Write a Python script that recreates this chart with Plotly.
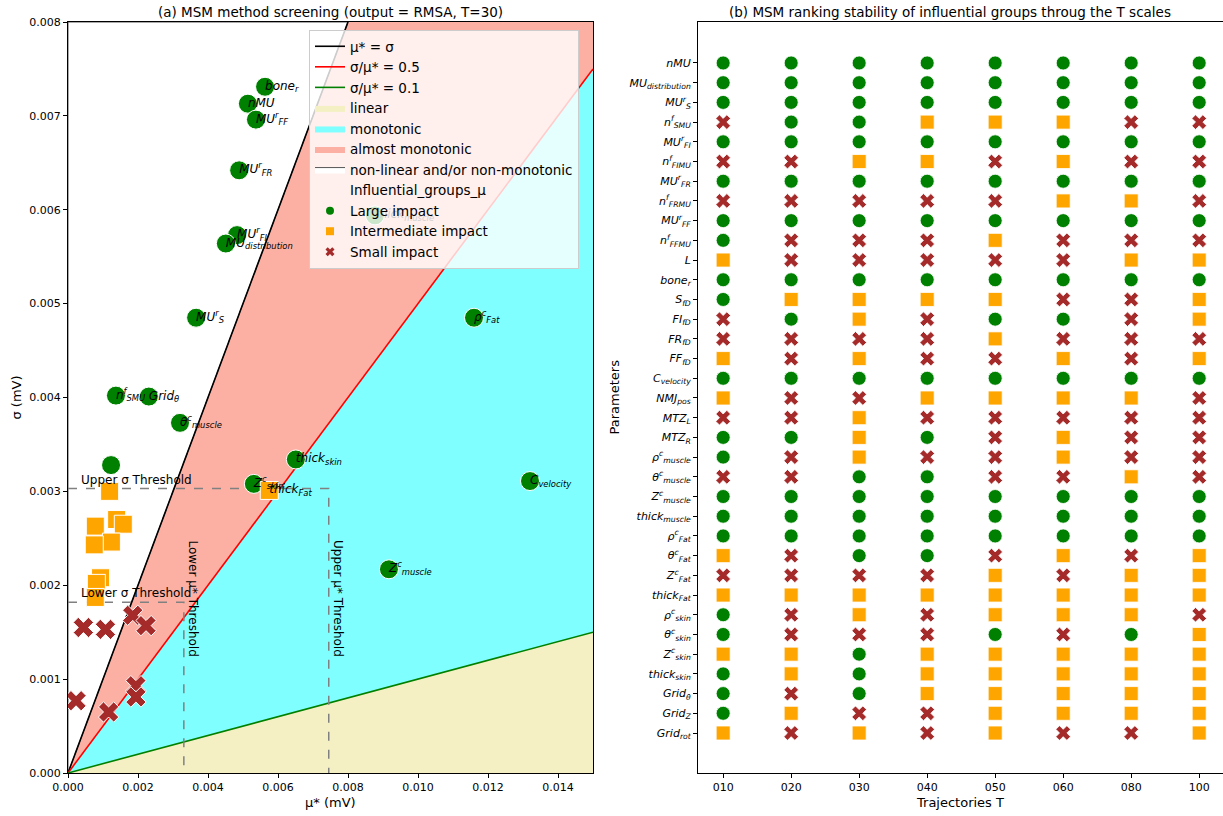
import plotly.graph_objects as go

W, H = 1223, 816

# ---------------- (a) MSM screening, T = 30 ----------------
mu_max, sigma_max = 0.015, 0.008
ratio_labels = ["μ* = σ", "σ/μ* = 0.5", "σ/μ* = 0.1"]
ratio_values = [1.0, 0.5, 0.1]
ratio_colors = ["black", "red", "green"]

region_names = ["linear", "monotonic", "almost monotonic", "non-linear and/or non-monotonic"]
region_colors = ["rgb(244,240,196)", "rgb(127,255,255)", "rgb(252,176,164)", "white"]

# Large impact group
large_mu = [0.00563, 0.00514, 0.00537, 0.00489, 0.00483, 0.00451, 0.00366, 0.00137,
            0.00231, 0.00320, 0.00123, 0.00651, 0.00531, 0.01160, 0.01320, 0.00917, 0.00877]
large_sigma = [0.00731, 0.00713, 0.00696, 0.00642, 0.00573, 0.00564, 0.00485, 0.00402,
               0.00401, 0.00373, 0.00328, 0.00334, 0.00308, 0.00485, 0.00311, 0.00217, 0.00594]
large_labels = ["<i>bone<sub>r</sub></i>", "<i>nMU</i>", "<i>MU<sup>r</sup><sub>FF</sub></i>",
                "<i>MU<sup>r</sup><sub>FR</sub></i>", "<i>MU<sup>r</sup><sub>FI</sub></i>",
                "<i>MU<sub>distribution</sub></i>", "<i>MU<sup>r</sup><sub>S</sub></i>",
                "<i>n<sup>f</sup><sub>SMU</sub></i>", "<i>Grid<sub>θ</sub></i>",
                "<i>θ<sup>c</sup><sub>muscle</sub></i>", "",
                "<i>thick<sub>skin</sub></i>", "<i>Z<sup>c</sup><sub>skin</sub></i>",
                "<i>ρ<sup>c</sup><sub>Fat</sub></i>", "<i>C<sub>velocity</sub></i>",
                "<i>Z<sup>c</sup><sub>muscle</sub></i>", "<i>thick<sub>muscle</sub></i>"]

# Intermediate impact group
inter_mu = [0.00119, 0.00139, 0.00158, 0.00078, 0.00124, 0.00075, 0.00093, 0.00081, 0.00078, 0.00575]
inter_sigma = [0.00300, 0.00270, 0.00265, 0.00263, 0.00246, 0.00243, 0.00208, 0.00202, 0.00187, 0.00301]
inter_labels = ["", "", "", "", "", "", "", "", "", "<i>thick<sub>Fat</sub></i>"]

# Small impact group
small_mu = [0.00044, 0.00107, 0.00185, 0.00223, 0.00023, 0.00194, 0.00194, 0.00116]
small_sigma = [0.00155, 0.00153, 0.00168, 0.00157, 0.00077, 0.00093, 0.00081, 0.00065]

upper_sigma, lower_sigma = 0.00303, 0.00182
upper_mu, lower_mu = 0.00745, 0.00331

# ---------------- (b) ranking stability ----------------
t_scales = ["010", "020", "030", "040", "050", "060", "080", "100"]
parameters = [
    "<i>nMU</i>", "<i>MU<sub>distribution</sub></i>", "<i>MU<sup>r</sup><sub>S</sub></i>",
    "<i>n<sup>f</sup><sub>SMU</sub></i>", "<i>MU<sup>r</sup><sub>FI</sub></i>",
    "<i>n<sup>f</sup><sub>FIMU</sub></i>", "<i>MU<sup>r</sup><sub>FR</sub></i>",
    "<i>n<sup>f</sup><sub>FRMU</sub></i>", "<i>MU<sup>r</sup><sub>FF</sub></i>",
    "<i>n<sup>f</sup><sub>FFMU</sub></i>", "<i>L</i>", "<i>bone<sub>r</sub></i>",
    "<i>S<sub>fD</sub></i>", "<i>FI<sub>fD</sub></i>", "<i>FR<sub>fD</sub></i>",
    "<i>FF<sub>fD</sub></i>", "<i>C<sub>velocity</sub></i>", "<i>NMJ<sub>pos</sub></i>",
    "<i>MTZ<sub>L</sub></i>", "<i>MTZ<sub>R</sub></i>",
    "<i>ρ<sup>c</sup><sub>muscle</sub></i>", "<i>θ<sup>c</sup><sub>muscle</sub></i>",
    "<i>Z<sup>c</sup><sub>muscle</sub></i>", "<i>thick<sub>muscle</sub></i>",
    "<i>ρ<sup>c</sup><sub>Fat</sub></i>", "<i>θ<sup>c</sup><sub>Fat</sub></i>",
    "<i>Z<sup>c</sup><sub>Fat</sub></i>", "<i>thick<sub>Fat</sub></i>",
    "<i>ρ<sup>c</sup><sub>skin</sub></i>", "<i>θ<sup>c</sup><sub>skin</sub></i>",
    "<i>Z<sup>c</sup><sub>skin</sub></i>", "<i>thick<sub>skin</sub></i>",
    "<i>Grid<sub>θ</sub></i>", "<i>Grid<sub>Z</sub></i>", "<i>Grid<sub>rot</sub></i>",
]
# L = large, I = intermediate, S = small impact, one letter per parameter
ranking_T010 = "LLLSLSLSLL" "ILLSSILISL" "LSLLLISILL" "ILLLI"
ranking_T020 = "LLLLLSLSLS" "SLILSSLSSL" "SSLLLSSISS" "IISIS"
ranking_T030 = "LLLLLILSLS" "SLIISILSII" "ILLLLLSIIS" "LLLSI"
ranking_T040 = "LLLILILSLS" "SLISSSLISL" "SLLLLLSISS" "IIISS"
ranking_T050 = "LLLILSLSLI" "SLILISLISS" "SSLLLSIIIL" "IIIII"
ranking_T060 = "LLLILILILS" "SLSLSILISI" "ISLLLISIIS" "IIIIS"
ranking_T080 = "LLLSLSLILS" "ILSSSSLISS" "SILLLSIIIL" "IIIIS"
ranking_T100 = "LLLSLSLSLS" "ILIISILSSS" "SSLLLIIISI" "IIIII"
rankings = [ranking_T010, ranking_T020, ranking_T030, ranking_T040,
            ranking_T050, ranking_T060, ranking_T080, ranking_T100]

group_names = ["Large impact", "Intermediate impact", "Small impact"]
group_codes = ["L", "I", "S"]
group_colors = ["green", "orange", "#a52a2a"]
group_symbols = ["circle", "square", "x"]

FONT = "DejaVu Sans"
fig = go.Figure()


def line_end(slope):
    """Point where a ray sigma = slope * mu leaves the plotting box."""
    if slope is None:          # vertical ray (mu = 0)
        return 0.0, sigma_max
    mu_end = min(mu_max, sigma_max / slope) if slope > 0 else mu_max
    return mu_end, slope * mu_end


def region_polygon(lo, hi):
    x0, y0 = line_end(lo)
    x1, y1 = line_end(hi)
    xs, ys = [0.0, x0], [0.0, y0]
    if x0 == mu_max and y1 == sigma_max and y0 < sigma_max:
        xs.append(mu_max); ys.append(sigma_max)
    xs += [x1, 0.0]; ys += [y1, 0.0]
    return xs, ys


# regions between the ratio lines (bottom to top)
bounds = [(0.0, ratio_values[2]), (ratio_values[2], ratio_values[1]),
          (ratio_values[1], ratio_values[0]), (ratio_values[0], None)]
for k, (lo, hi) in enumerate(bounds):
    xs, ys = region_polygon(lo, hi)
    outline = k == 3
    fig.add_trace(go.Scatter(x=xs, y=ys, fill="toself", fillcolor=region_colors[k],
                             mode="lines",
                             line=dict(width=1 if outline else 0,
                                       color="#555555" if outline else region_colors[k]),
                             name=region_names[k], legendrank=10 + k, hoverinfo="skip",
                             xaxis="x", yaxis="y"))

# ratio lines
for k, r in enumerate(ratio_values):
    xe, ye = line_end(r)
    fig.add_trace(go.Scatter(x=[0, xe], y=[0, ye], mode="lines",
                             line=dict(color=ratio_colors[k], width=1.6),
                             name=ratio_labels[k], legendrank=k + 1, xaxis="x", yaxis="y"))

# threshold guides
for s_th, m_th in ((upper_sigma, upper_mu), (lower_sigma, lower_mu)):
    fig.add_trace(go.Scatter(x=[0, m_th, m_th], y=[s_th, s_th, 0], mode="lines",
                             line=dict(color="gray", width=1.5, dash="dash"),
                             showlegend=False, hoverinfo="skip", xaxis="x", yaxis="y"))

# screening points
group_mu = [large_mu, inter_mu, small_mu]
group_sigma = [large_sigma, inter_sigma, small_sigma]
left_sizes = [19, 18, 18]
for g in range(3):
    fig.add_trace(go.Scatter(x=group_mu[g], y=group_sigma[g], mode="markers",
                             marker=dict(symbol=group_symbols[g], color=group_colors[g],
                                         size=left_sizes[g], line=dict(color="white", width=1)),
                             showlegend=False, xaxis="x", yaxis="y"))

label_mu = large_mu + inter_mu
label_sigma = large_sigma + inter_sigma
label_text = large_labels + inter_labels
fig.add_trace(go.Scatter(x=label_mu, y=label_sigma, mode="text", text=label_text,
                         textposition="middle right", marker=dict(size=0),
                         textfont=dict(family=FONT, size=12, color="black"),
                         showlegend=False, hoverinfo="skip", xaxis="x", yaxis="y"))

# legend entries for groups
fig.add_trace(go.Scatter(x=[None], y=[None], mode="markers",
                         marker=dict(size=1, color="rgba(0,0,0,0)"),
                         name="Influential_groups_μ", legendrank=20, xaxis="x", yaxis="y"))
for g in range(3):
    fig.add_trace(go.Scatter(x=[None], y=[None], mode="markers",
                             marker=dict(symbol=group_symbols[g], color=group_colors[g], size=8),
                             name=group_names[g], legendrank=21 + g, xaxis="x", yaxis="y"))

# ---------------- (b) grid of groups ----------------
right_sizes = [14, 14, 13]
for g in range(3):
    xs, ys = [], []
    for t, ranking in zip(t_scales, rankings):
        for p, code in zip(parameters, ranking):
            if code == group_codes[g]:
                xs.append(t)
                ys.append(p)
    fig.add_trace(go.Scatter(x=xs, y=ys, mode="markers",
                             marker=dict(symbol=group_symbols[g], color=group_colors[g],
                                         size=right_sizes[g], line=dict(color="white", width=0.8)),
                             showlegend=False, xaxis="x2", yaxis="y2"))

# ---------------- layout ----------------
def px_x(p):
    return p / W


def px_y(p):
    return 1 - p / H


axis_common = dict(showline=True, linecolor="black", linewidth=1, mirror=True,
                   ticks="outside", ticklen=4, tickcolor="black", showgrid=False,
                   zeroline=False, automargin=False,
                   tickfont=dict(family=FONT, size=11, color="black"))

fig.update_layout(
    width=W, height=H, margin=dict(l=0, r=0, t=0, b=0, pad=0, autoexpand=False),
    paper_bgcolor="white", plot_bgcolor="white",
    font=dict(family=FONT, color="black"),
    xaxis=dict(domain=[px_x(68), px_x(593)], range=[0, mu_max], dtick=0.002,
               tickformat=".3f", anchor="y", **axis_common),
    yaxis=dict(domain=[px_y(773), px_y(22)], range=[0, sigma_max], dtick=0.001,
               tickformat=".3f", anchor="x", **axis_common),
    xaxis2=dict(domain=[px_x(698), 1.0], type="category", categoryorder="array",
                categoryarray=t_scales, range=[-0.37, 7.35], anchor="y2", **axis_common),
    yaxis2=dict(domain=[px_y(773), px_y(22)], type="category", categoryorder="array",
                categoryarray=parameters, range=[len(parameters) - 1 + 2.03, -2.08],
                anchor="x2", **axis_common),
    legend=dict(x=px_x(309), y=px_y(30), xanchor="left", yanchor="top",
                bgcolor="rgba(255,255,255,0.8)", bordercolor="#cccccc", borderwidth=1,
                font=dict(family=FONT, size=13.5, color="black"), itemwidth=30,
                tracegroupgap=0, traceorder="normal"),
    showlegend=True,
)


def paper_text(text, x, y, size, angle=0):
    return dict(text=text, x=px_x(x), y=px_y(y), xref="paper", yref="paper",
                xanchor="center", yanchor="middle", showarrow=False, textangle=angle,
                font=dict(family=FONT, size=size, color="black"))


annotations = [
    paper_text("(a) MSM method screening (output = RMSA, T=30)", 330.5, 12, 13.5),
    paper_text("(b) MSM ranking stability of influential groups throug the T scales", 950, 12, 13.5),
    paper_text("μ* (mV)", 330.5, 802, 13),
    paper_text("σ (mV)", 16, 397.5, 13, -90),
    paper_text("Trajectories T", 960, 802, 13),
    paper_text("Parameters", 614, 397.5, 13, -90),
    dict(text="Upper σ Threshold", x=0.0003, y=upper_sigma, xref="x", yref="y",
         xanchor="left", yanchor="bottom", showarrow=False, font=dict(family=FONT, size=12)),
    dict(text="Lower σ Threshold", x=0.0003, y=lower_sigma, xref="x", yref="y",
         xanchor="left", yanchor="bottom", showarrow=False, font=dict(family=FONT, size=12)),
    dict(text="Lower μ* Threshold", x=lower_mu, y=0.00250, xref="x", yref="y", textangle=90,
         xanchor="left", yanchor="top", showarrow=False, font=dict(family=FONT, size=12)),
    dict(text="Upper μ* Threshold", x=upper_mu, y=0.00250, xref="x", yref="y", textangle=90,
         xanchor="left", yanchor="top", showarrow=False, font=dict(family=FONT, size=12)),
]
fig.update_layout(annotations=annotations)

fig.write_html("out.html")
